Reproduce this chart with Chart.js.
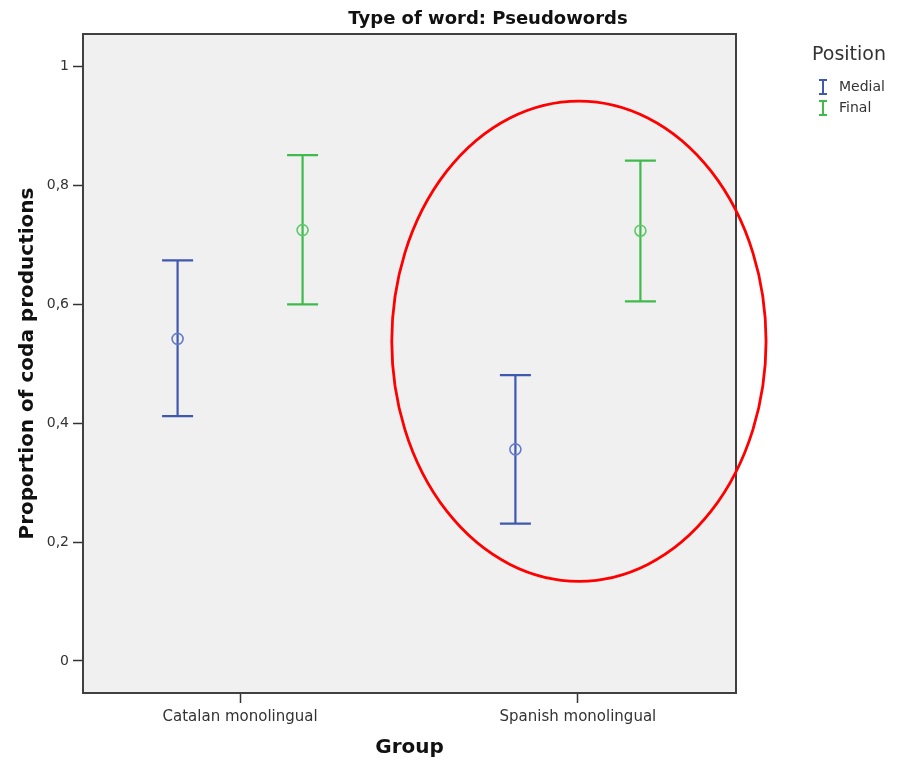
<!DOCTYPE html>
<html>
<head>
<meta charset="utf-8">
<script src="https://cdn.jsdelivr.net/npm/chart.js@4"></script>
<style>
  html, body { margin: 0; padding: 0; background: #ffffff; }
  #wrap { width: 901px; height: 760px; }
</style>
</head>
<body>
<div id="wrap"><canvas id="c" width="901" height="760"></canvas></div>
<script>
// ---- data ----
const groups = ['Catalan monolingual', 'Spanish monolingual'];
const groupPos = [1, 2];
const seriesNames = ['Medial', 'Final'];
const medialMean = [0.542, 0.356];
const medialLow  = [0.412, 0.231];
const medialHigh = [0.674, 0.481];
const finalMean  = [0.725, 0.724];
const finalLow   = [0.600, 0.605];
const finalHigh  = [0.851, 0.842];
const yTicks = [0, 0.2, 0.4, 0.6, 0.8, 1];
const yTickLabels = ['0', '0,2', '0,4', '0,6', '0,8', '1'];
// highlight ellipse (data units): centre group, centre value, half-width, half-height
const ellipseCx = 2.003, ellipseCy = 0.538, ellipseRx = 0.554, ellipseRy = 0.404;

// ---- styling ----
const dodge = 0.185;
const blue = '#3f58b0', blueLight = '#6279cf';
const green = '#3fbb4c', greenLight = '#5cc867';
const FONT = '"DejaVu Sans", Verdana, sans-serif';

const series = [
  { name: seriesNames[0], mean: medialMean, low: medialLow, high: medialHigh, off: -dodge, color: blue, light: blueLight },
  { name: seriesNames[1], mean: finalMean, low: finalLow, high: finalHigh, off: dodge, color: green, light: greenLight }
];

const datasets = series.map(s => ({
  label: s.name,
  data: groupPos.map((g, i) => ({ x: g + s.off, y: s.mean[i] })),
  pointStyle: 'circle',
  pointRadius: 5.5,
  pointHoverRadius: 5.5,
  pointBorderWidth: 1.6,
  borderColor: s.light,
  pointBorderColor: s.light,
  backgroundColor: 'rgba(0,0,0,0)',
  pointBackgroundColor: 'rgba(0,0,0,0)',
  showLine: false
}));

const framePlugin = {
  id: 'frame',
  beforeDraw(chart) {
    const { ctx, chartArea: a } = chart;
    ctx.save();
    ctx.fillStyle = '#f0f0f0';
    ctx.fillRect(a.left, a.top, a.right - a.left, a.bottom - a.top);
    ctx.restore();
  },
  beforeDatasetsDraw(chart) {
    const { ctx, scales: { x, y } } = chart;
    ctx.save();
    series.forEach(s => {
      ctx.strokeStyle = s.color;
      ctx.lineWidth = 2.2;
      groupPos.forEach((g, i) => {
        const px = x.getPixelForValue(g + s.off);
        const pl = y.getPixelForValue(s.low[i]);
        const ph = y.getPixelForValue(s.high[i]);
        ctx.beginPath();
        ctx.moveTo(px, pl); ctx.lineTo(px, ph);
        ctx.moveTo(px - 15.5, pl); ctx.lineTo(px + 15.5, pl);
        ctx.moveTo(px - 15.5, ph); ctx.lineTo(px + 15.5, ph);
        ctx.stroke();
      });
    });
    ctx.restore();
  },
  afterDatasetsDraw(chart) {
    const { ctx, chartArea: a, scales: { x, y } } = chart;
    ctx.save();
    // frame
    ctx.strokeStyle = '#404040';
    ctx.lineWidth = 2;
    ctx.strokeRect(a.left, a.top, a.right - a.left, a.bottom - a.top);
    // highlight ellipse
    const cx = x.getPixelForValue(ellipseCx);
    const cy = y.getPixelForValue(ellipseCy);
    const rx = Math.abs(x.getPixelForValue(ellipseCx + ellipseRx) - cx);
    const ry = Math.abs(y.getPixelForValue(ellipseCy + ellipseRy) - cy);
    ctx.strokeStyle = '#ff0000';
    ctx.lineWidth = 2.8;
    ctx.beginPath();
    ctx.ellipse(cx, cy, rx, ry, 0, 0, Math.PI * 2);
    ctx.stroke();
    // title
    ctx.fillStyle = '#111111';
    ctx.font = 'bold 18px ' + FONT;
    ctx.textAlign = 'center';
    ctx.textBaseline = 'middle';
    ctx.fillText('Type of word: Pseudowords', 488, 19);
    // legend
    ctx.textAlign = 'left';
    ctx.fillStyle = '#333333';
    ctx.font = '19px ' + FONT;
    ctx.fillText('Position', 812, 55);
    ctx.font = '14px ' + FONT;
    series.forEach((s, k) => {
      const ly = 87 + k * 21;
      const lx = 823;
      ctx.strokeStyle = s.color;
      ctx.lineWidth = 2;
      ctx.beginPath();
      ctx.moveTo(lx, ly - 7); ctx.lineTo(lx, ly + 7);
      ctx.moveTo(lx - 4, ly - 7); ctx.lineTo(lx + 4, ly - 7);
      ctx.moveTo(lx - 4, ly + 7); ctx.lineTo(lx + 4, ly + 7);
      ctx.stroke();
      ctx.fillStyle = '#333333';
      ctx.fillText(s.name, 839, ly);
    });
    ctx.restore();
  }
};

new Chart(document.getElementById('c'), {
  type: 'scatter',
  data: { datasets },
  plugins: [framePlugin],
  options: {
    responsive: false,
    animation: false,
    devicePixelRatio: 1,
    layout: { padding: { top: 34, right: 165, bottom: 0, left: 0 } },
    plugins: {
      legend: { display: false },
      title: { display: false },
      tooltip: { enabled: false }
    },
    scales: {
      x: {
        type: 'linear',
        min: 0.535,
        max: 2.468,
        afterBuildTicks: (s) => { s.ticks = groupPos.map(v => ({ value: v })); },
        afterFit: (s) => { s.height = 67; },
        ticks: {
          callback: (v) => groups[groupPos.indexOf(v)],
          font: { family: FONT, size: 15 },
          color: '#333333',
          padding: 5,
          maxRotation: 0,
          autoSkip: false
        },
        grid: { drawOnChartArea: false, drawTicks: true, tickLength: 10, tickWidth: 1.5, tickColor: '#333333' },
        border: { display: false },
        title: {
          display: true,
          text: 'Group',
          font: { family: FONT, size: 20, weight: 'bold', lineHeight: 1.2 },
          color: '#111111',
          padding: { top: 0, bottom: 0 }
        }
      },
      y: {
        type: 'linear',
        min: -0.054,
        max: 1.055,
        afterBuildTicks: (s) => { s.ticks = yTicks.map(v => ({ value: v })); },
        afterFit: (s) => { s.width = 83; },
        ticks: {
          callback: (v) => yTickLabels[yTicks.indexOf(v)],
          font: { family: FONT, size: 14 },
          color: '#333333',
          padding: 4,
          autoSkip: false
        },
        grid: { drawOnChartArea: false, drawTicks: true, tickLength: 10, tickWidth: 1.5, tickColor: '#333333' },
        border: { display: false },
        title: {
          display: true,
          text: 'Proportion of coda productions',
          font: { family: FONT, size: 20, weight: 'bold', lineHeight: 1.2 },
          color: '#111111',
          padding: { top: 16, bottom: 0 }
        }
      }
    }
  }
});
</script>
</body>
</html>
